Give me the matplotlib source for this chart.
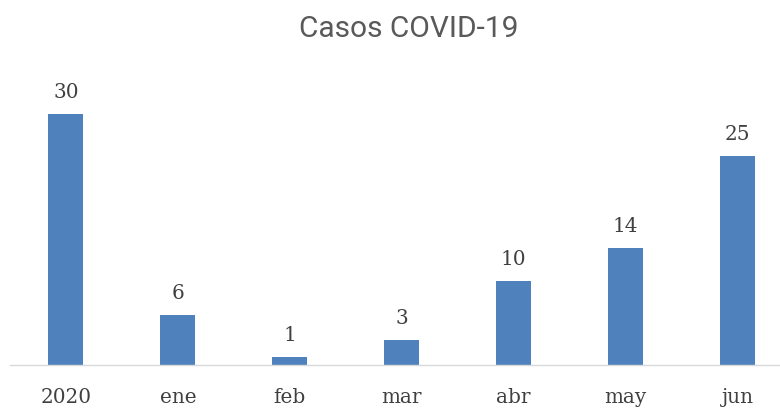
import matplotlib
matplotlib.use("Agg")
import matplotlib.pyplot as plt
from matplotlib import font_manager

categories = ["2020", "ene", "feb", "mar", "abr", "may", "jun"]
values = [30, 6, 1, 3, 10, 14, 25]
title = "Casos COVID-19"

W, H = 780, 408
dpi = 100
fig = plt.figure(figsize=(W / dpi, H / dpi), dpi=dpi)

# axes in pixel geometry
ax_left, ax_right = 10, 793.5
ax_bottom, ax_top = 365, 72
ax = fig.add_axes([ax_left / W, (H - ax_bottom) / H,
                   (ax_right - ax_left) / W, (ax_bottom - ax_top) / H])

x = list(range(len(categories)))
bars = ax.bar(x, values, width=0.313, color="#4F81BD", zorder=2)
ax.set_xlim(-0.5, len(categories) - 0.5)
ax.set_ylim(0, 35)

for s in ["top", "right", "left"]:
    ax.spines[s].set_visible(False)
ax.spines["bottom"].set_color("#D9D9D9")
ax.spines["bottom"].set_linewidth(1.0)
ax.set_yticks([])

serif = "DejaVu Serif"
label_color = "#404040"
ax.set_xticks(x)
ax.set_xticklabels(categories, fontfamily=serif, fontsize=14.4, color=label_color)
ax.tick_params(axis="x", length=0, pad=27.4)
for lbl in ax.get_xticklabels():
    lbl.set_verticalalignment("baseline")

for xi, v in zip(x, values):
    ax.annotate(str(v), xy=(xi, v), xytext=(0, 11.5), textcoords="offset points",
                ha="center", va="baseline", fontfamily=serif, fontsize=14.4,
                color=label_color)

names = {f.name for f in font_manager.fontManager.ttflist}
tfam = "Liberation Sans Narrow" if "Liberation Sans Narrow" in names else "Roboto"
fig.text(409 / W, 1 - 36.7 / H, title, ha="center", va="baseline",
         fontfamily=tfam, fontsize=21.5 if tfam == "Roboto" else 23.3, color="#595959")

fig.savefig("out.png", dpi=dpi)
